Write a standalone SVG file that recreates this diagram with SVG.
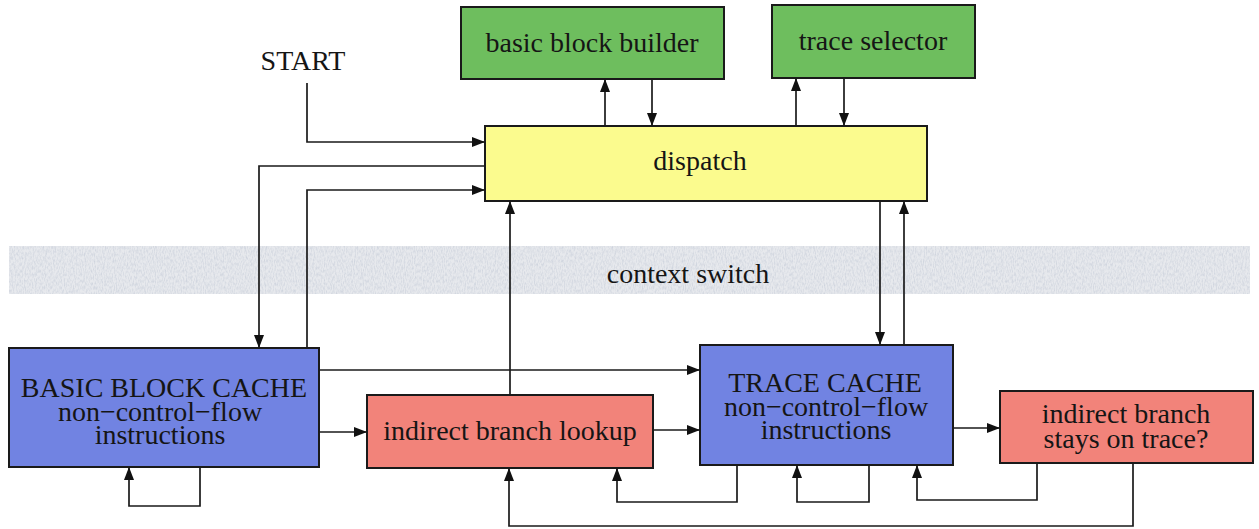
<svg xmlns="http://www.w3.org/2000/svg" width="1259" height="529" viewBox="0 0 1259 529">
  <defs>
    <marker id="arrow" viewBox="0 0 13 10" refX="13" refY="5" markerWidth="13" markerHeight="10" markerUnits="userSpaceOnUse" orient="auto">
      <path d="M0,0 L13,5 L0,10 z" fill="#111"/>
    </marker>
    <!-- speckled texture for the context switch band -->
    <filter id="grain" x="0" y="0" width="100%" height="100%">
      <feTurbulence type="fractalNoise" baseFrequency="0.9 0.3" numOctaves="2" seed="7" result="n"/>
      <feColorMatrix in="n" type="matrix" values="0 0 0 0 0.58  0 0 0 0 0.62  0 0 0 0 0.70  0 0 0 1.5 -0.55" result="spots"/>
      <feComposite in="spots" in2="SourceGraphic" operator="in"/>
    </filter>
    <style>
      .box { stroke: #1a1a1a; stroke-width: 2; }
      .green { fill: #6ebe5e; }
      .yellow { fill: #fbfb8e; }
      .blue { fill: #7183e2; }
      .red { fill: #f2837a; }
      .lbl { font-family: "Liberation Serif", "Times New Roman", serif; font-size: 28px; fill: #151515; text-anchor: middle; }
      .conn path { fill: none; stroke: #1a1a1a; stroke-width: 1.7; marker-end: url(#arrow); }
    </style>
  </defs>

  <rect width="1259" height="529" fill="#ffffff"/>

  <!-- context switch band -->
  <g id="context-switch">
    <rect x="9" y="246" width="1241" height="48" fill="#e7e9ed"/>
    <rect x="9" y="246" width="1241" height="48" fill="#000" filter="url(#grain)"/>
    <text class="lbl" x="688" y="283">context switch</text>
  </g>

  <g id="start">
    <text class="lbl" x="303" y="70">START</text>
  </g>

  <g id="basic-block-builder">
    <rect class="box green" x="461" y="7" width="263" height="72"/>
    <text class="lbl" x="592" y="52">basic block builder</text>
  </g>

  <g id="trace-selector">
    <rect class="box green" x="772" y="5" width="203" height="73"/>
    <text class="lbl" x="873" y="50">trace selector</text>
  </g>

  <g id="dispatch">
    <rect class="box yellow" x="485" y="126" width="442" height="75"/>
    <text class="lbl" x="700" y="170">dispatch</text>
  </g>

  <g id="basic-block-cache">
    <rect class="box blue" x="9" y="348" width="310" height="119"/>
    <text class="lbl" x="164" y="397">BASIC BLOCK CACHE</text>
    <text class="lbl" x="160" y="421">non−control−flow</text>
    <text class="lbl" x="160" y="444">instructions</text>
  </g>

  <g id="indirect-branch-lookup">
    <rect class="box red" x="367" y="395" width="286" height="73"/>
    <text class="lbl" x="510" y="440">indirect branch lookup</text>
  </g>

  <g id="trace-cache">
    <rect class="box blue" x="700" y="345" width="253" height="120"/>
    <text class="lbl" x="825" y="392">TRACE CACHE</text>
    <text class="lbl" x="826" y="416">non−control−flow</text>
    <text class="lbl" x="826" y="439">instructions</text>
  </g>

  <g id="stays-on-trace">
    <rect class="box red" x="1000" y="391" width="253" height="72"/>
    <text class="lbl" x="1126" y="423">indirect branch</text>
    <text class="lbl" x="1126" y="448">stays on trace?</text>
  </g>

  <g id="connectors" class="conn">
    <path d="M307,83 V142 H485"/>
    <path d="M485,166 H259 V348"/>
    <path d="M307,348 V190 H485"/>
    <path d="M605,126 V79"/>
    <path d="M652,79 V126"/>
    <path d="M796,126 V78"/>
    <path d="M844,78 V126"/>
    <path d="M510,395 V201"/>
    <path d="M880,201 V345"/>
    <path d="M904,345 V201"/>
    <path d="M319,370 H700"/>
    <path d="M319,432 H367"/>
    <path d="M653,430 H700"/>
    <path d="M953,428 H1000"/>
    <path d="M200,467 V506 H129 V467"/>
    <path d="M737,465 V502 H617 V468"/>
    <path d="M869,465 V502 H797 V465"/>
    <path d="M1037,463 V500 H917 V465"/>
    <path d="M1133,463 V526 H509 V468"/>
  </g>
</svg>
